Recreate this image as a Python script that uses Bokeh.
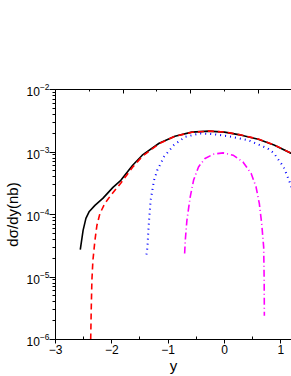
from bokeh.plotting import figure
from bokeh.models import Range1d, LinearAxis, FixedTicker, LogTicker
from bokeh.embed import file_html
from bokeh.resources import INLINE

# --- data ---
y_black = [-2.56, -2.51, -2.46, -2.40, -2.30, -2.16, -1.98, -1.84, -1.63, -1.46,
           -1.16, -0.88, -0.58, -0.28, 0.0, 0.30, 0.60, 0.88, 1.18, 1.30]
v_black = [2.75e-5, 5.56e-5, 8.65e-5, 1.12e-4, 1.40e-4, 1.81e-4, 2.72e-4, 3.52e-4, 6.14e-4, 8.89e-4,
           1.38e-3, 1.79e-3, 2.08e-3, 2.16e-3, 2.08e-3, 1.86e-3, 1.60e-3, 1.29e-3, 9.57e-4, 8.5e-4]

y_red = [-2.375, -2.366, -2.354, -2.336, -2.300, -2.265, -2.211, -2.123, -2.018, -1.842, -1.632, -1.456,
         -1.16, -0.88, -0.58, -0.28, 0.0, 0.30, 0.60, 0.88, 1.18, 1.30]
v_red = [1.0e-6, 2.89e-6, 8.75e-6, 1.83e-5, 3.84e-5, 6.68e-5, 1.04e-4, 1.51e-4, 2.03e-4, 3.16e-4, 5.70e-4, 8.57e-4,
         1.36e-3, 1.78e-3, 2.07e-3, 2.16e-3, 2.09e-3, 1.87e-3, 1.61e-3, 1.30e-3, 9.6e-4, 8.6e-4]

y_blue = [-1.386, -1.368, -1.351, -1.339, -1.311, -1.251, -1.193, -1.075, -0.900, -0.696, -0.433,
          -0.198, 0.065, 0.416, 0.767, 0.877, 1.053, 1.175, 1.25]
v_blue = [2.29e-5, 2.96e-5, 5.56e-5, 8.04e-5, 1.68e-4, 3.52e-4, 5.11e-4, 8.34e-4, 1.29e-3, 1.75e-3, 1.98e-3,
          1.93e-3, 1.79e-3, 1.55e-3, 1.14e-3, 9.57e-4, 5.70e-4, 3.0e-4, 1.8e-4]

y_mag = [-0.707, -0.696, -0.667, -0.609, -0.549, -0.461, -0.346, -0.198, -0.023, 0.153, 0.328,
         0.474, 0.561, 0.619, 0.661, 0.696, 0.705, 0.708]
v_mag = [2.38e-5, 3.84e-5, 8.04e-5, 1.90e-4, 3.52e-4, 5.77e-4, 7.87e-4, 9.23e-4, 9.68e-4, 8.89e-4, 6.93e-4,
         4.52e-4, 2.75e-4, 1.49e-4, 7.11e-5, 3.00e-5, 8.75e-6, 2.40e-6]

x_ticks = [-3, -2, -1, 0, 1]
x_minor = [-2.5, -1.5, -0.5, 0.5]
top_major = [-1.8, -0.6, 0.6]
top_minor = [-2.4, -1.2, 0.0]

FONT = "Liberation Sans"

p = figure(width=291, height=376, output_backend="svg", toolbar_location=None,
           y_axis_type="log", x_range=Range1d(-3, 1.19), y_range=Range1d(1e-6, 1e-2),
           min_border_left=52, min_border_right=0, min_border_top=89, min_border_bottom=37,
           x_axis_label="y", y_axis_label="dσ/dy(nb)")
p.outline_line_color = None
p.xgrid.visible = False
p.ygrid.visible = False
p.background_fill_color = "white"
p.border_fill_color = "white"

p.line(y_black, v_black, line_color="black", line_width=1.6)
p.line(y_red, v_red, line_color="#ff0000", line_width=1.6, line_dash="6 4")
p.line(y_blue, v_blue, line_color="#0000ff", line_width=2, line_dash="1 4")
p.line(y_mag, v_mag, line_color="#ff00ff", line_width=1.6, line_dash="7 3 1 3")

xa = p.xaxis[0]
xa.ticker = FixedTicker(ticks=x_ticks, minor_ticks=x_minor)
xa.major_tick_out = 4
xa.major_tick_in = 0
xa.minor_tick_in = 3
xa.minor_tick_out = 0
xa.major_label_text_font = FONT
xa.major_label_text_font_size = "12px"
xa.major_label_text_color = "black"
xa.major_label_standoff = 1
xa.axis_line_color = "black"
xa.axis_label_text_font = FONT
xa.axis_label_text_font_size = "15px"
xa.axis_label_text_font_style = "normal"
xa.axis_label_text_color = "black"
xa.axis_label_standoff = 0

ya = p.yaxis[0]
ya.ticker = LogTicker(num_minor_ticks=10)
ya.major_tick_out = 6
ya.major_tick_in = 0
ya.minor_tick_out = 3
ya.minor_tick_in = 0
ya.major_label_text_font = FONT
ya.major_label_text_font_size = "12px"
ya.major_label_text_color = "black"
ya.major_label_standoff = 0
ya.axis_line_color = "black"
ya.axis_label_text_font = FONT
ya.axis_label_text_font_size = "15px"
ya.axis_label_text_font_style = "normal"
ya.axis_label_text_color = "black"
ya.axis_label_standoff = 3

top = LinearAxis(ticker=FixedTicker(ticks=top_major, minor_ticks=top_minor))
top.major_label_text_font_size = "0px"
top.major_label_text_color = None
top.major_tick_in = 4
top.major_tick_out = 0
top.minor_tick_in = 2
top.minor_tick_out = 0
top.axis_line_color = "black"
p.add_layout(top, "above")

open("out.html", "w").write(file_html(p, INLINE))
